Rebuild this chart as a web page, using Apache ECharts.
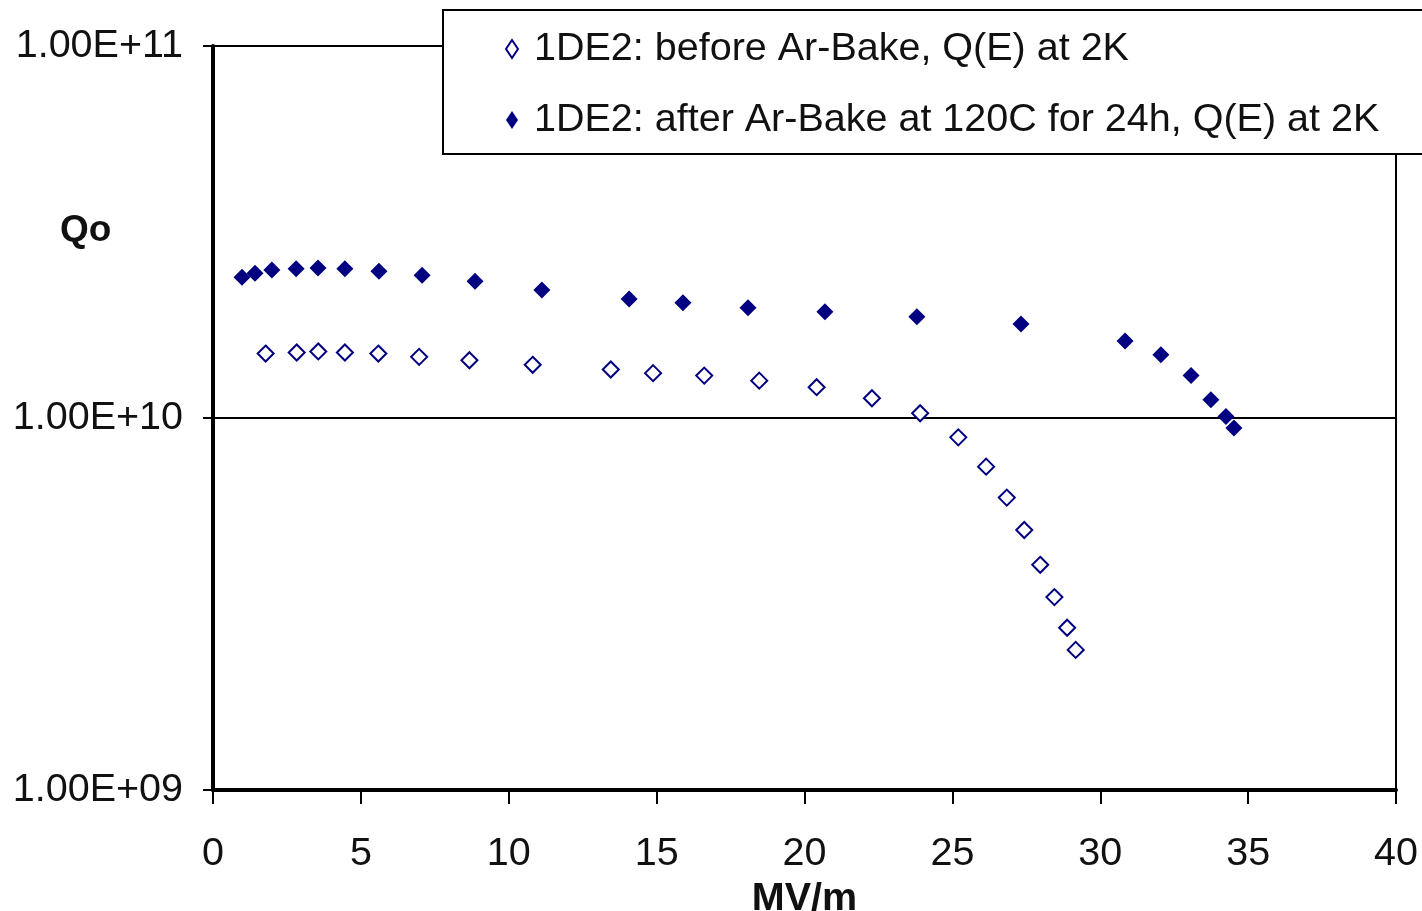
<!DOCTYPE html>
<html>
<head>
    <meta charset="utf-8">
    <title>Qo vs MV/m</title>
    <script src="https://cdn.jsdelivr.net/npm/echarts@6/dist/echarts.min.js"></script>
    <style>
        html, body { margin: 0; padding: 0; background: #fff; }
        #chart { width: 1422px; height: 911px; }
    </style>
</head>
<body>
<div id="chart"></div>
<script>
    // before Ar-Bake (open diamonds)
    var beforeE = [1.78, 2.83, 3.56, 4.46, 5.59, 6.97, 8.67, 10.81, 13.45, 14.88, 16.61, 18.47, 20.41, 22.28, 23.91,
        25.20, 26.14, 26.84, 27.43, 27.97, 28.45, 28.88, 29.17];
    var beforeQ = [1.49e10, 1.50e10, 1.51e10, 1.50e10, 1.49e10, 1.46e10, 1.43e10, 1.39e10, 1.35e10, 1.32e10, 1.30e10, 1.26e10, 1.21e10, 1.13e10, 1.03e10,
        8.87e9, 7.40e9, 6.11e9, 5.00e9, 4.03e9, 3.30e9, 2.73e9, 2.38e9];
    // after Ar-Bake at 120C for 24h (filled diamonds)
    var afterE = [0.98, 1.42, 1.99, 2.81, 3.55, 4.46, 5.61, 7.07, 8.86, 11.12, 14.07, 15.89, 18.09, 20.69, 23.80,
        27.32, 30.84, 32.05, 33.07, 33.74, 34.25, 34.52];
    var afterQ = [2.39e10, 2.45e10, 2.50e10, 2.52e10, 2.53e10, 2.52e10, 2.48e10, 2.42e10, 2.33e10, 2.21e10, 2.09e10, 2.04e10, 1.98e10, 1.93e10, 1.87e10,
        1.79e10, 1.61e10, 1.48e10, 1.30e10, 1.12e10, 1.01e10, 9.40e9];
    var seriesNames = ['1DE2: before Ar-Bake, Q(E) at 2K', '1DE2: after Ar-Bake at 120C for 24h, Q(E) at 2K'];

    function pairs(xs, ys) {
        var out = [];
        for (var i = 0; i < xs.length; i++) out.push([xs[i], ys[i]]);
        return out;
    }

    // 1e10 -> "1.00E+10", 1e9 -> "1.00E+09"
    function sci(v) {
        var s = Number(v).toExponential(2).toUpperCase();
        return s.replace(/E([+-])(\d)$/, 'E$10$2');
    }

    var font = 'Liberation Sans, Arial, sans-serif';
    var navy = '#000080';
    var fs = 39.5;

    var chart = echarts.init(document.getElementById('chart'));
    chart.setOption({
        animation: false,
        textStyle: { fontFamily: font },
        grid: {
            left: 213, right: 26, top: 46, bottom: 121,
            outerBoundsMode: 'none',
            containLabel: false,
            show: true, borderColor: '#000', borderWidth: 2
        },
        legend: {
            orient: 'vertical',
            left: 443, top: 10,
            padding: [19, 80, 14, 62],
            itemGap: 31,
            itemWidth: 12, itemHeight: 18,
            backgroundColor: '#fff',
            borderColor: '#000', borderWidth: 2,
            textStyle: { fontSize: fs, color: '#111', fontFamily: font, padding: [0, 0, 0, 11] },
            data: seriesNames
        },
        xAxis: {
            type: 'value',
            min: 0, max: 40, interval: 5,
            name: 'MV/m',
            nameLocation: 'middle',
            nameGap: 86,
            nameTextStyle: { fontSize: fs, fontWeight: 'bold', color: '#111', fontFamily: font },
            axisLine: { lineStyle: { color: '#000', width: 4 } },
            axisTick: { inside: false, length: 14, lineStyle: { color: '#000', width: 2 } },
            axisLabel: { fontSize: fs, color: '#111', margin: 44, fontFamily: font },
            splitLine: { show: false }
        },
        yAxis: {
            type: 'log',
            logBase: 10,
            min: 1e9, max: 1e11,
            axisLine: { show: true, lineStyle: { color: '#000', width: 4 } },
            axisTick: { show: true, inside: false, length: 10, lineStyle: { color: '#000', width: 2 } },
            axisLabel: { fontSize: fs, color: '#111', margin: 30, fontFamily: font, formatter: sci },
            splitLine: { show: true, lineStyle: { color: '#000', width: 2 } }
        },
        graphic: [{
            type: 'text',
            left: 60, top: 212,
            style: { text: 'Qo', fontSize: 37, fontWeight: 'bold', fill: '#111', fontFamily: font }
        }],
        series: [{
            name: seriesNames[0],
            type: 'scatter',
            symbol: 'diamond',
            symbolSize: 16,
            itemStyle: { color: '#fff', borderColor: navy, borderWidth: 2, opacity: 1 },
            data: pairs(beforeE, beforeQ)
        }, {
            name: seriesNames[1],
            type: 'scatter',
            symbol: 'diamond',
            symbolSize: 17,
            itemStyle: { color: navy, opacity: 1 },
            data: pairs(afterE, afterQ)
        }]
    });
</script>
</body>
</html>
